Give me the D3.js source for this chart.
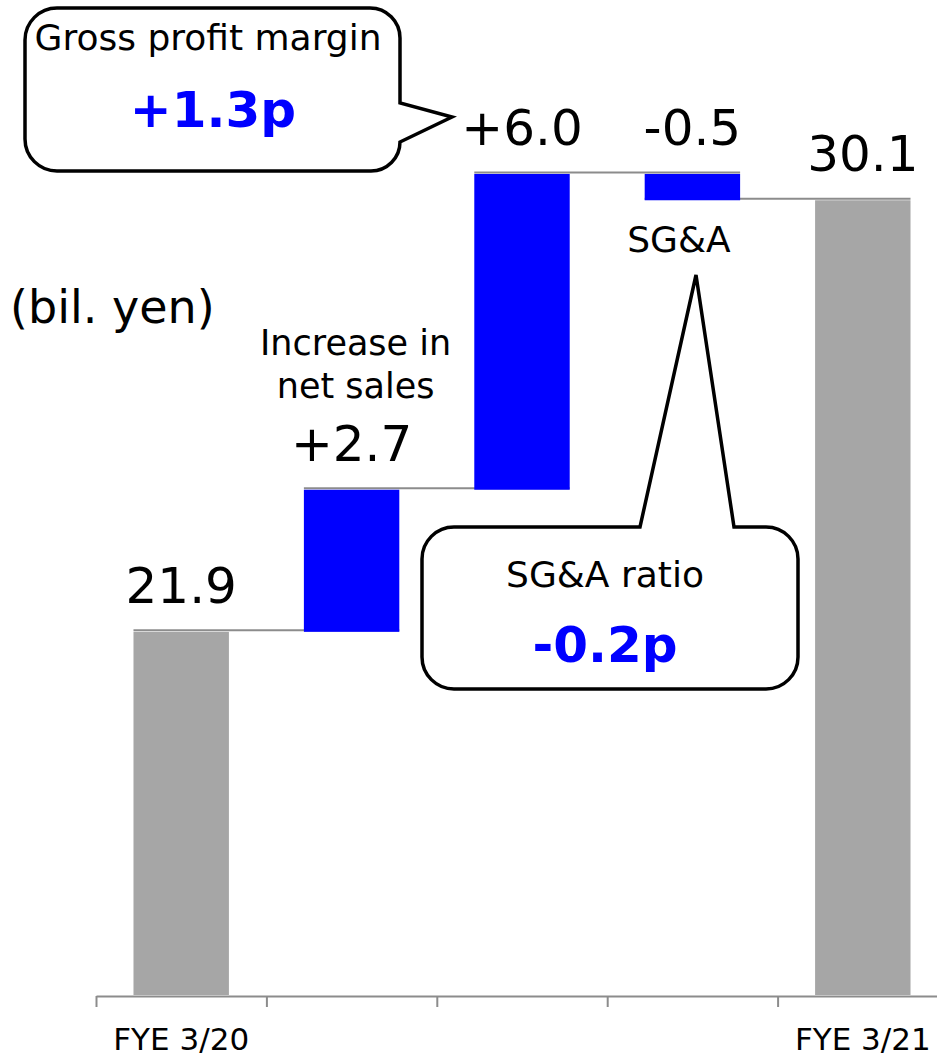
<!DOCTYPE html>
<html><head><meta charset="utf-8">
<script src="https://cdn.jsdelivr.net/npm/d3@7"></script>
<style>
body{margin:0;background:#fff}
svg{display:block}
text{font-family:"DejaVu Sans",Verdana,sans-serif;fill:#000}
</style>
</head><body>
<svg id="c" width="937" height="1058"></svg>
<script>
// ---- data ----
const categories = ["FYE 3/20", "Increase in net sales", "Gross profit margin", "SG&A", "FYE 3/21"];
const tickLabels = ["FYE 3/20", "", "", "", "FYE 3/21"];
const values = [21.9, 2.7, 6.0, -0.5, 30.1];
const kinds = ["total", "delta", "delta", "delta", "total"];
const valueLabels = ["21.9", "+2.7", "+6.0", "-0.5", "30.1"];
const yDomain = [15, 34];
const unitLabel = "(bil. yen)";
const salesLabel = ["Increase in", "net sales"];
const sgaLabel = "SG&A";
const grossTitle = "Gross profit margin";
const grossValue = "+1.3p";
const sgaRatioTitle = "SG&A ratio";
const sgaRatioValue = "-0.2p";

// ---- compute waterfall ----
let run = 0;
const rows = categories.map((c, i) => {
  let start, end;
  if (kinds[i] === "total") { start = yDomain[0]; end = values[i]; run = values[i]; }
  else { start = run; end = run + values[i]; run = end; }
  return {cat: c, kind: kinds[i], start, end, label: valueLabels[i], top: Math.max(start, end)};
});

const svg = d3.select("#c");
const x = d3.scaleBand().domain(categories).range([96, 948]).paddingInner(0.44).paddingOuter(0.22);
const y = d3.scaleLinear().domain(yDomain).range([995, -5]);
const bw = x.bandwidth();

// connectors
const conn = rows.slice(0, -1).map((r, i) => ({x1: x(r.cat), x2: x(rows[i + 1].cat) + bw, v: r.end}));
svg.append("g").selectAll("line").data(conn).join("line")
  .attr("x1", d => d.x1).attr("x2", d => d.x2)
  .attr("y1", d => y(d.v) - 1.5).attr("y2", d => y(d.v) - 1.5)
  .attr("stroke", "#8c8c8c").attr("stroke-width", 2);

// bars
svg.append("g").selectAll("rect").data(rows).join("rect")
  .attr("x", d => x(d.cat)).attr("width", bw)
  .attr("y", d => y(Math.max(d.start, d.end)))
  .attr("height", d => Math.abs(y(d.start) - y(d.end)))
  .attr("fill", d => d.kind === "total" ? "#a6a6a6" : "#0000ff");

// value labels
svg.append("g").selectAll("text").data(rows).join("text")
  .attr("x", d => x(d.cat) + bw / 2)
  .attr("y", d => y(d.top) - 29)
  .attr("text-anchor", "middle").attr("font-size", 50)
  .text(d => d.label);

// axis with boundary ticks
const xb = d3.scaleLinear().domain([0, categories.length]).range(x.range());
const gAxis = svg.append("g").attr("transform", `translate(0,${y(yDomain[0]) + 1})`)
  .call(d3.axisBottom(xb).tickValues(d3.range(categories.length + 1)).tickSize(11).tickSizeOuter(0).tickFormat(""));
gAxis.selectAll("path,line").attr("stroke", "#8c8c8c").attr("stroke-width", 2);

const gLab = svg.append("g").attr("transform", `translate(0,${y(yDomain[0]) + 1})`)
  .call(d3.axisBottom(x).tickSize(0).tickPadding(32).tickFormat((d, i) => tickLabels[i]));
gLab.select(".domain").remove();
gLab.selectAll("text").attr("font-size", 31).attr("font-family", '"DejaVu Sans",Verdana,sans-serif').attr("fill", "#000");

// unit label
svg.append("text").attr("x", 10).attr("y", 323).attr("font-size", 46).text(unitLabel);

// increase in net sales label
const salesX = x(categories[1]) + bw / 2 + 4;
svg.append("text").attr("x", salesX).attr("y", 355).attr("text-anchor", "middle").attr("font-size", 35).text(salesLabel[0]);
svg.append("text").attr("x", salesX).attr("y", 398).attr("text-anchor", "middle").attr("font-size", 35).text(salesLabel[1]);

// SG&A label
svg.append("text").attr("x", 679).attr("y", 252).attr("text-anchor", "middle").attr("font-size", 36).text(sgaLabel);

// callout: gross profit margin
svg.append("path")
  .attr("d", "M57,8 H370 A30,30 0 0 1 400,38 V103 L452,117 L400,142 A29,29 0 0 1 371,171 H57 A32,32 0 0 1 25,139 V40 A32,32 0 0 1 57,8 Z")
  .attr("fill", "#fff").attr("stroke", "#000").attr("stroke-width", 3.5).attr("stroke-linejoin", "miter");
svg.append("text").attr("x", 208).attr("y", 50).attr("text-anchor", "middle").attr("font-size", 36).text(grossTitle);
svg.append("text").attr("x", 213).attr("y", 127).attr("text-anchor", "middle").attr("font-size", 50)
  .attr("font-weight", "bold").style("fill", "#0000ff").text(grossValue);

// callout: SG&A ratio
svg.append("path")
  .attr("d", "M454,527 H640 L696,275 L734,527 H766 A32,32 0 0 1 798,559 V657 A32,32 0 0 1 766,689 H454 A32,32 0 0 1 422,657 V559 A32,32 0 0 1 454,527 Z")
  .attr("fill", "#fff").attr("stroke", "#000").attr("stroke-width", 3.5).attr("stroke-linejoin", "miter");
svg.append("text").attr("x", 605).attr("y", 587).attr("text-anchor", "middle").attr("font-size", 36).text(sgaRatioTitle);
svg.append("text").attr("x", 605).attr("y", 662).attr("text-anchor", "middle").attr("font-size", 50)
  .attr("font-weight", "bold").style("fill", "#0000ff").text(sgaRatioValue);
</script>
</body></html>
